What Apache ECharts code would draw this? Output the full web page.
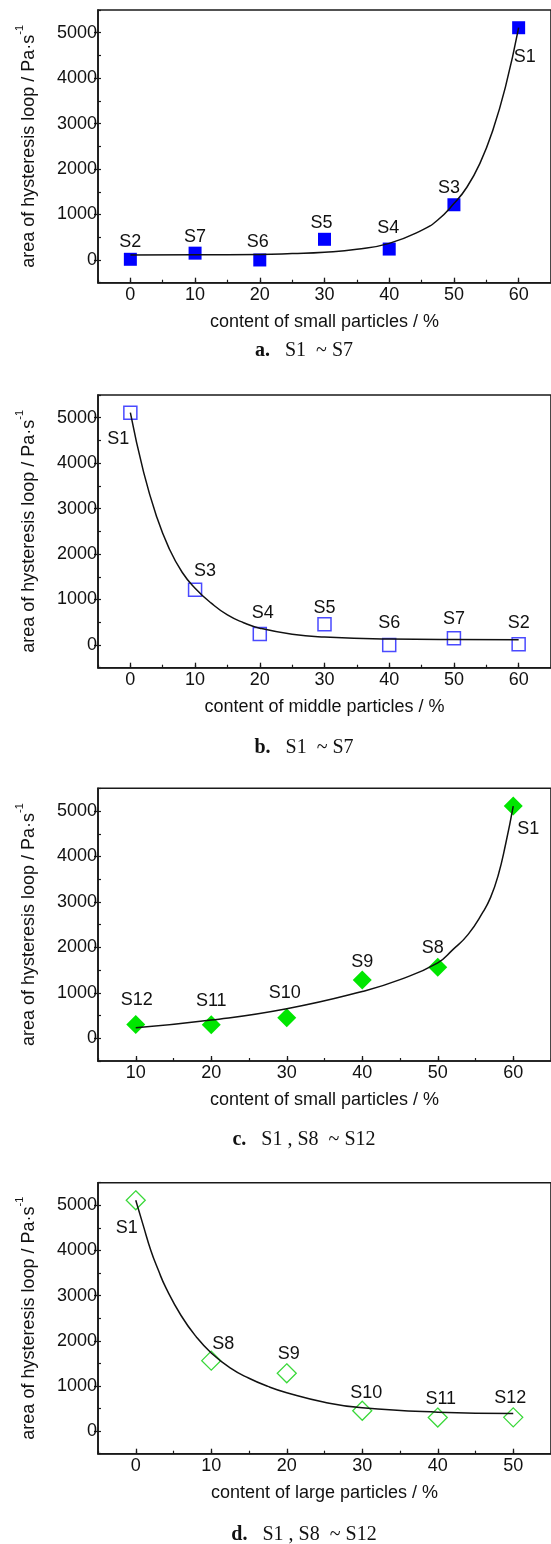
<!DOCTYPE html>
<html>
<head>
<meta charset="utf-8">
<script src="https://cdn.jsdelivr.net/npm/echarts@6/dist/echarts.min.js"></script>
<style>
  html, body { margin: 0; padding: 0; background: #fff; }
  #main { width: 551px; height: 1544px; }
</style>
</head>
<body>
<div id="main"></div>
<script>
// a. small particles (S1 ~ S7)
const xA = [0, 10, 20, 30, 40, 50, 60];
const nameA = ['S2', 'S7', 'S6', 'S5', 'S4', 'S3', 'S1'];
const yA = [15, 150, 0, 455, 240, 1215, 5110];
const fitXA = [0, 10, 20, 25, 30, 35, 40, 45, 47.5, 50, 52, 54, 56, 58, 60];
const fitYA = [112, 113, 120, 140, 170, 235, 365, 650, 880, 1240, 1600, 2120, 2850, 3830, 5110];

// b. middle particles (S1 ~ S7)
const xB = [0, 10, 20, 30, 40, 50, 60];
const nameB = ['S1', 'S3', 'S4', 'S5', 'S6', 'S7', 'S2'];
const yB = [5110, 1215, 240, 455, 0, 150, 15];
const fitXB = [0, 2, 4, 6, 8, 10, 12.5, 15, 17.5, 20, 25, 30, 40, 50, 60];
const fitYB = [5110, 3830, 2850, 2120, 1600, 1250, 920, 660, 490, 370, 235, 175, 130, 118, 116];

// c. small particles (S1, S8 ~ S12)
const xC = [10, 20, 30, 40, 50, 60];
const nameC = ['S12', 'S11', 'S10', 'S9', 'S8', 'S1'];
const yC = [305, 295, 450, 1280, 1560, 5110];
const fitXC = [10, 20, 30, 40, 45, 50, 52, 54, 56, 57, 58, 59, 60];
const fitYC = [230, 400, 650, 1030, 1290, 1660, 1950, 2280, 2780, 3100, 3580, 4280, 5110];

// d. large particles (S1, S8 ~ S12)
const xD = [0, 10, 20, 30, 40, 50];
const nameD = ['S1', 'S8', 'S9', 'S10', 'S11', 'S12'];
const yD = [5110, 1560, 1280, 450, 300, 305];
const fitXD = [0, 1, 2, 3, 4, 6, 8, 10, 12.5, 15, 17.5, 20, 25, 30, 40, 50];
const fitYD = [5110, 4550, 4000, 3560, 3170, 2560, 2090, 1730, 1400, 1170, 990, 850, 640, 515, 420, 390];

const yTicks = [0, 1000, 2000, 3000, 4000, 5000];
const xTicksA = [0, 10, 20, 30, 40, 50, 60];
const xTicksC = [10, 20, 30, 40, 50, 60];
const xTicksD = [0, 10, 20, 30, 40, 50];

const FONT = "'Liberation Sans', Arial, sans-serif";
const SERIF = "'Liberation Serif', 'DejaVu Serif', serif";
const INK = '#1a1a1a';
const TXT = '#111';

// label offsets (px, relative to marker centre)
const offA = [[0, -17], [0, -16], [-2, -18], [-3, -16], [-1, -21], [-5, -17], [6, 29]];
const offB = [[-12, 26], [10, -19], [3, -21], [0, -16], [0, -22], [0, -19], [0, -21]];
const offC = [[1, -24], [0, -24], [-2, -25], [0, -18], [-5, -19], [15, 23]];
const offD = [[-9, 28], [12, -17], [2, -19], [4, -18], [3, -19], [-3, -19]];

const panels = [
  { top: 10, height: 272.7, width: 454, xmin: -5, xmax: 65, xTicks: xTicksA, xName: 'content of small particles / %',
    xs: xA, ys: yA, names: nameA, offs: offA, fx: fitXA, fy: fitYA,
    symbol: 'rect', size: 13, item: { color: '#0000ff', opacity: 1 } },
  { top: 395, height: 272.7, width: 454, xmin: -5, xmax: 65, xTicks: xTicksA, xName: 'content of middle particles / %',
    xs: xB, ys: yB, names: nameB, offs: offB, fx: fitXB, fy: fitYB,
    symbol: 'rect', size: 13, item: { color: '#fff', borderColor: '#4a4aff', borderWidth: 1.5, opacity: 1 } },
  { top: 788.3, height: 272.7, width: 456, xmin: 5, xmax: 65, xTicks: xTicksC, xName: 'content of small particles / %',
    xs: xC, ys: yC, names: nameC, offs: offC, fx: fitXC, fy: fitYC,
    symbol: 'diamond', size: 19, item: { color: '#00e600', opacity: 1 } },
  { top: 1182.7, height: 271, width: 456, xmin: -5, xmax: 55, xTicks: xTicksD, xName: 'content of large particles / %',
    xs: xD, ys: yD, names: nameD, offs: offD, fx: fitXD, fy: fitYD,
    symbol: 'diamond', size: 19, item: { color: '#fff', borderColor: '#3ad83a', borderWidth: 1.3, opacity: 1 } }
];

const captions = [
  { y: 351, text: '{b|a.}   S1  ~ S7' },
  { y: 748, text: '{b|b.}   S1  ~ S7' },
  { y: 1140, text: '{b|c.}   S1 , S8  ~ S12' },
  { y: 1535, text: '{b|d.}   S1 , S8  ~ S12' }
];

const grid = [], xAxis = [], yAxis = [], series = [];

panels.forEach((p, i) => {
  grid.push({ left: 98, top: p.top, width: p.width, height: p.height,
    show: true, borderColor: INK, borderWidth: 1.6, backgroundColor: 'transparent' });

  xAxis.push({
    gridIndex: i, type: 'value', min: p.xmin, max: p.xmax, interval: 5, position: 'bottom',
    axisLine: { show: true, onZero: false, lineStyle: { color: INK, width: 1.6 } },
    axisTick: { show: true, inside: true, length: 5, customValues: p.xTicks, lineStyle: { color: INK, width: 1.3 } },
    axisLabel: { customValues: p.xTicks, margin: 3, fontSize: 18, color: TXT, fontFamily: FONT, formatter: v => String(v) },
    splitLine: { show: false },
    name: p.xName, nameLocation: 'middle', nameGap: 30,
    nameTextStyle: { fontSize: 18, color: TXT, fontFamily: FONT }
  });
  xAxis.push({
    gridIndex: i, type: 'value', min: p.xmin, max: p.xmax, interval: 5, position: 'bottom',
    axisLine: { show: false, onZero: false },
    axisTick: { show: true, inside: true, length: 3, lineStyle: { color: INK, width: 1.2 } },
    axisLabel: { show: false }, splitLine: { show: false }
  });

  yAxis.push({
    gridIndex: i, type: 'value', min: -500, max: 5500, interval: 500, position: 'left',
    axisLine: { show: true, onZero: false, lineStyle: { color: INK, width: 1.6 } },
    axisTick: { show: true, inside: false, length: 4, customValues: yTicks, lineStyle: { color: INK, width: 1.3 } },
    axisLabel: { customValues: yTicks, margin: 1, fontSize: 18, color: TXT, fontFamily: FONT, formatter: v => String(v) },
    splitLine: { show: false },
    name: '{m|area of hysteresis loop / Pa·s}{s|-1}',
    nameLocation: 'middle', nameRotate: 90, nameGap: 60,
    nameTextStyle: {
      rich: {
        m: { fontSize: 18, color: TXT, fontFamily: FONT, padding: [6, 0, 0, 0] },
        s: { fontSize: 11, color: TXT, fontFamily: FONT, verticalAlign: 'top' }
      }
    }
  });
  yAxis.push({
    gridIndex: i, type: 'value', min: -500, max: 5500, interval: 500, position: 'left',
    axisLine: { show: false, onZero: false },
    axisTick: { show: true, inside: true, length: 3, lineStyle: { color: INK, width: 1.2 } },
    axisLabel: { show: false }, splitLine: { show: false }
  });

  series.push({
    type: 'scatter', xAxisIndex: 2 * i, yAxisIndex: 2 * i,
    symbol: p.symbol, symbolSize: p.size, itemStyle: p.item, z: 2,
    label: { show: true, position: 'inside', formatter: '{b}', fontSize: 18, color: TXT, fontFamily: FONT },
    data: p.xs.map((x, k) => ({ name: p.names[k], value: [x, p.ys[k]], label: { offset: p.offs[k] } }))
  });
  series.push({
    type: 'line', xAxisIndex: 2 * i, yAxisIndex: 2 * i,
    smooth: 0.5, showSymbol: false, z: 3, silent: true,
    lineStyle: { color: '#111', width: 1.5 },
    data: p.fx.map((x, k) => [x, p.fy[k]])
  });
});

const graphic = captions.map(c => ({
  type: 'text', x: 304, y: c.y,
  style: {
    text: c.text, align: 'center', verticalAlign: 'middle',
    fontSize: 20, fontFamily: SERIF, fill: '#111',
    rich: { b: { fontSize: 20, fontWeight: 'bold', fontFamily: SERIF, fill: '#111' } }
  }
}));

const chart = echarts.init(document.getElementById('main'));
chart.setOption({
  animation: false,
  backgroundColor: '#fff',
  grid, xAxis, yAxis, series, graphic
});
</script>
</body>
</html>
